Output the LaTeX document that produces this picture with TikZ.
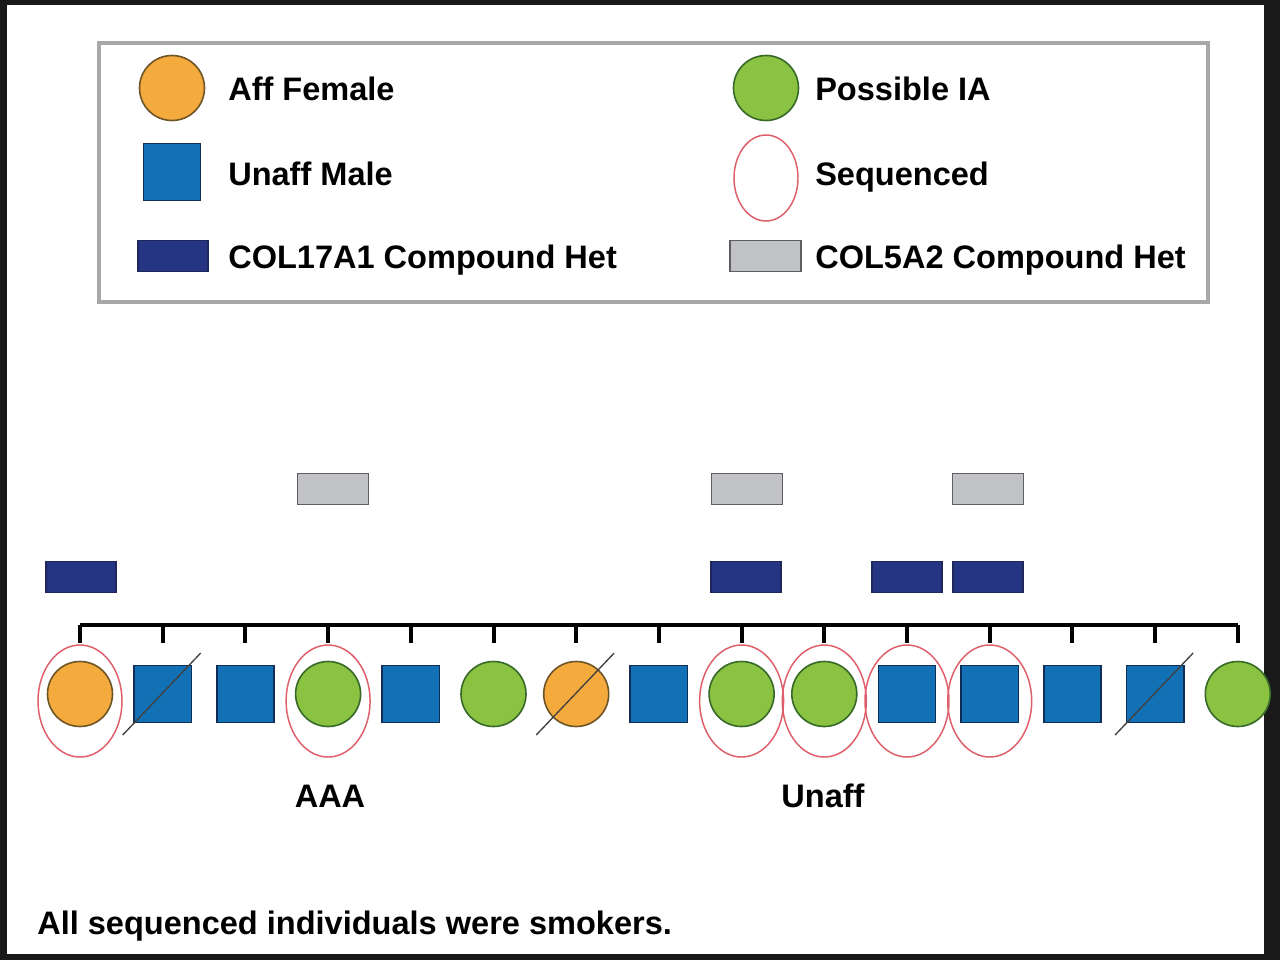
\documentclass[tikz,border=0pt]{standalone}
\usepackage{fontspec}
\setmainfont{Liberation Sans}
\usetikzlibrary{shapes.geometric}
\definecolor{affc}{RGB}{245,170,62}
\definecolor{affd}{RGB}{110,85,40}
\definecolor{piac}{RGB}{138,194,65}
\definecolor{piad}{RGB}{55,105,40}
\definecolor{malec}{RGB}{18,112,180}
\definecolor{maled}{RGB}{15,45,85}
\definecolor{navyc}{RGB}{38,52,132}
\definecolor{navyd}{RGB}{30,38,90}
\definecolor{grayc}{RGB}{192,194,198}
\definecolor{grayd}{RGB}{95,95,95}
\definecolor{seqc}{RGB}{222,95,105}
\definecolor{framec}{RGB}{168,168,168}
\begin{document}
\begin{tikzpicture}[x=0.75pt,y=-0.75pt,
  afffem/.style={circle,inner sep=0,minimum size=48.75pt,fill=affc,draw=affd,line width=1.2pt},
  possfem/.style={circle,inner sep=0,minimum size=48.75pt,fill=piac,draw=piad,line width=1.2pt},
  unmale/.style={rectangle,inner sep=0,minimum size=43pt,fill=malec,draw=maled,line width=1.2pt},
  seqring/.style={ellipse,inner sep=0,minimum width=63pt,minimum height=84pt,draw=seqc,line width=1.1pt},
  colA/.style={rectangle,inner sep=0,minimum width=52.5pt,minimum height=23.25pt,fill=navyc,draw=navyd,line width=0.8pt},
  colB/.style={rectangle,inner sep=0,minimum width=53pt,minimum height=23.25pt,fill=grayc,draw=grayd,line width=1.2pt},
  lbl/.style={font=\bfseries\fontsize{24.4}{29}\selectfont,inner sep=0},
  sib/.style={line width=3pt,black},
  deceased/.style={line width=1pt,black!75}]
\useasboundingbox (0,0) rectangle (1280,960);
\fill[black!90] (0,0) rectangle (1280,960);
\fill[white] (7,5) rectangle (1264,954);

% legend
\node[draw=framec,line width=3pt,minimum width=831.75pt,minimum height=194.25pt,inner sep=0] (legend) at (653.5,172.5) {};
\node[afffem] (lg1) at (172,88) {};
\node[lbl,anchor=base west] (lt1) at (228,100) {Aff Female};
\node[unmale] (lg2) at (172,172) {};
\node[lbl,anchor=base west] (lt2) at (228,185) {Unaff Male};
\node[colA] (lg3) at (173,256) {};
\node[lbl,anchor=base west] (lt3) at (228,268) {COL17A1 Compound Het};
\node[possfem] (lg4) at (766,88) {};
\node[lbl,anchor=base west] (lt4) at (815,100) {Possible IA};
\node[seqring,minimum width=48pt,minimum height=64.5pt] (lg5) at (766,178) {};
\node[lbl,anchor=base west] (lt5) at (815,185) {Sequenced};
\node[colB] (lg6) at (765.5,256) {};
\node[lbl,anchor=base west] (lt6) at (815,268) {COL5A2 Compound Het};

% individuals
\foreach \i/\kind in {1/afffem,2/unmale,3/unmale,4/possfem,5/unmale,6/possfem,7/afffem,8/unmale,9/possfem,10/possfem,11/unmale,12/unmale,13/unmale,14/unmale,15/possfem}{
  \pgfmathsetmacro{\xx}{80+(\i-1)*82.7}
  \node[\kind] (p\i) at (\xx,694) {};
  \coordinate (t\i) at (\xx,625);
  \coordinate (d\i) at (\xx,643);
}
% sibship line
\draw[sib] (t1) -- (t15);
\foreach \i in {1,...,15}{\draw[sib] (t\i) -- (d\i);}

% deceased slashes
\foreach \i in {2,7,14}{
  \draw[deceased] ([shift={(-40,41)}]p\i.center) -- ([shift={(38,-41)}]p\i.center);
}

% sequenced rings
\foreach \i in {1,4,9,10,11,12}{
  \node[seqring] (s\i) at ([yshift=-5.25pt]p\i.center) {};
}

% gene bars
\node[colA] (a1) at (81,577) {};
\node[colA] (a9) at (746,577) {};
\node[colA] (a11) at (907,577) {};
\node[colA] (a12) at (988,577) {};
\node[colB] (b4) at (333,489) {};
\node[colB] (b9) at (747,489) {};
\node[colB] (b12) at (988,489) {};

% labels
\node[lbl,anchor=base] (aaa) at (330,807) {AAA};
\node[lbl,anchor=base] (unaff) at (823,807) {Unaff};
\node[lbl,anchor=base west] (note) at (37,934) {All sequenced individuals were smokers.};
\end{tikzpicture}
\end{document}
